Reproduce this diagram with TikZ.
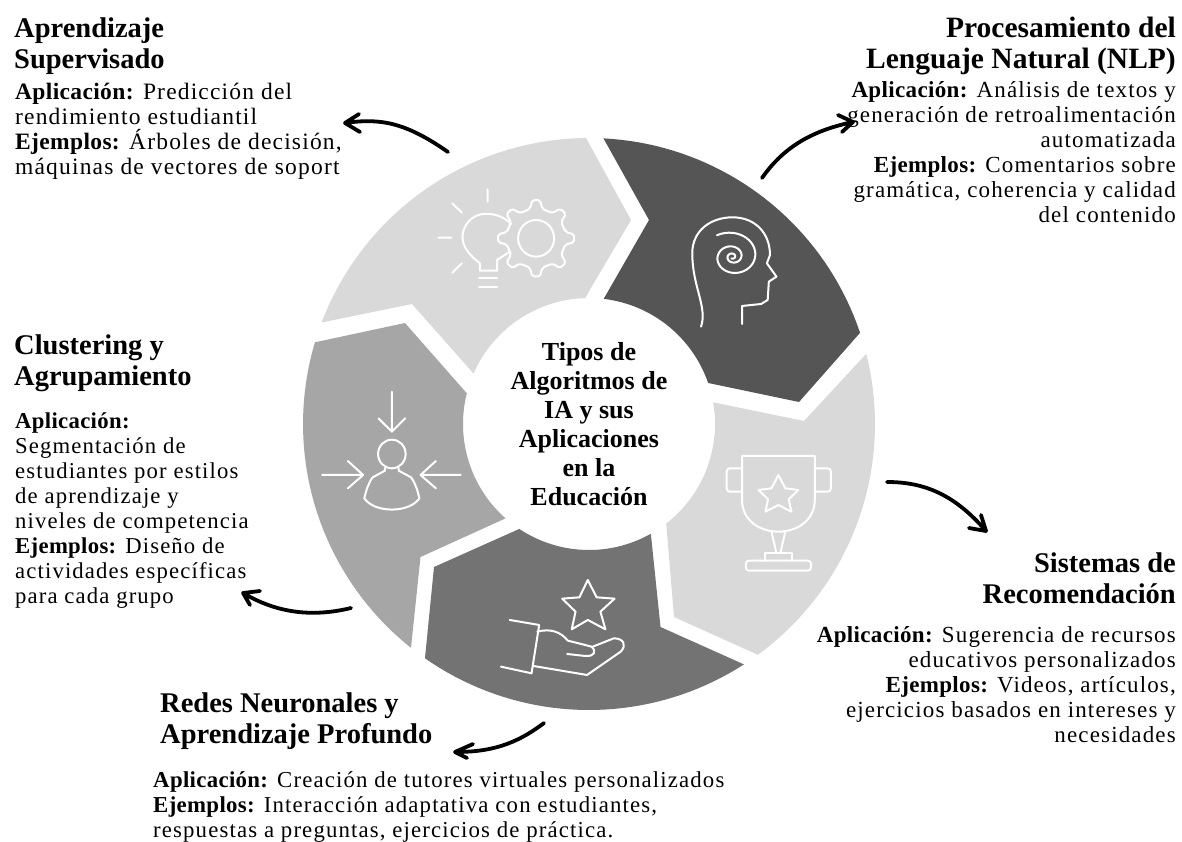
\documentclass[tikz,border=0pt]{standalone}
\usepackage{fontspec}
\setmainfont{Liberation Serif}
\newfontfamily\bodyfont[LetterSpace=5]{Liberation Serif}
\newfontfamily\bodybold[LetterSpace=1.5,BoldFont={Liberation Serif Bold}]{Liberation Serif Bold}
\definecolor{segl}{HTML}{D9D9D9}
\definecolor{segd}{HTML}{555555}
\definecolor{segm}{HTML}{737373}
\definecolor{sega}{HTML}{A6A6A6}
\newcommand{\bsz}{23}
\newcommand{\bd}[1]{{\bodybold\fontsize{\bsz}{25}\selectfont #1}}
\tikzset{
 x=1pt,y=-1pt,
 iconline/.style={draw=white,line width=2pt,line cap=round,line join=round,fill=none},
 curvearrow/.style={draw=black,line width=3.8pt,line cap=round,line join=round},
 bodytext/.style={inner sep=0pt,font=\bodyfont\renewcommand{\bsz}{#1}\fontsize{\bsz}{25}\selectfont},
 bodytext/.default=23,
 titletext/.style={inner sep=0pt,font=\fontsize{#1}{31}\selectfont\bfseries},
 titletext/.default=28.5,
 centertext/.style={inner sep=0pt,align=center,font=\fontsize{26}{29}\selectfont\bfseries},
}
\begin{document}
\begin{tikzpicture}
\useasboundingbox (0,0) rectangle (1182,842);
\fill[white] (0,0) rectangle (1182,842);
% ring segments
\fill[segl] plot[domain=200.8:269.4,samples=40] ({589+286*cos(\x)},{424+286*sin(\x)}) -- (631,220) -- plot[domain=268.2:203.6,samples=30] ({589+126*cos(\x)},{424+126*sin(\x)}) -- (412,304) -- cycle;
\fill[segd] plot[domain=272.9:341.4,samples=40] ({589+286*cos(\x)},{424+286*sin(\x)}) -- (799,402) -- plot[domain=341:276.7,samples=30] ({589+126*cos(\x)},{424+126*sin(\x)}) -- (649,220) -- cycle;
\fill[segl] plot[domain=345.8:413.8,samples=40] ({589+286*cos(\x)},{424+286*sin(\x)}) -- (674,617) -- plot[domain=52.2:-9.9,samples=30] ({589+126*cos(\x)},{424+126*sin(\x)}) -- (804,421) -- cycle;
\fill[segm] plot[domain=57.2:125,samples=40] ({589+286*cos(\x)},{424+286*sin(\x)}) -- (434,567) -- plot[domain=123.6:60.6,samples=30] ({589+126*cos(\x)},{424+126*sin(\x)}) -- (660.5,627) -- cycle;
\fill[sega] plot[domain=128.5:196.6,samples=40] ({589+286*cos(\x)},{424+286*sin(\x)}) -- (405,323) -- plot[domain=194.1:131.5,samples=30] ({589+126*cos(\x)},{424+126*sin(\x)}) -- (420.5,557) -- cycle;
% icons upper
\begin{scope}[shift={(300,100)},x=0.3827pt,y=-0.3333pt]
 % bulb
 \draw[iconline] (552,372) .. controls (520,335) and (465,330) .. (440,365) .. controls (410,410) and (425,450) .. (470,490) -- (470,512) -- (515,512) -- (515,480) -- (548,455);
 \draw[iconline] (468,533) -- (515,533) (468,560) -- (515,560);
 \draw[iconline] (490,268) -- (490,305) (398,310) -- (423,338) (362,413) -- (395,413) (398,518) -- (423,490);
 % gear
 \draw[iconline] (617,415) ellipse [x radius=47,y radius=55];
 \draw[iconline,rounded corners=2pt] ({617+78*cos(-12)},{415+90*sin(-12)})
 \foreach \a in {0,45,...,315}{ -- ({617+78*cos(\a-12)},{415+90*sin(\a-12)}) -- ({617+100*cos(\a-6)},{415+115*sin(\a-6)}) -- ({617+100*cos(\a+6)},{415+115*sin(\a+6)}) -- ({617+78*cos(\a+12)},{415+90*sin(\a+12)})} -- cycle;
 % head
 \draw[iconline] (1048,680) .. controls (1065,620) and (1025,560) .. (1025,460) .. controls (1025,390) and (1075,352) .. (1130,352) .. controls (1190,352) and (1228,400) .. (1228,465) -- (1220,490) -- (1245,530) -- (1225,545) -- (1222,600) -- (1205,612) -- (1155,618) -- (1155,672);
 \draw[iconline] plot[domain=0:1,samples=120] ({1130+(6+70*(1-\x)*(1-\x))*cos(-122+960*\x)},{470+(6+70*(1-\x)*(1-\x))*sin(-122+960*\x)});
\end{scope}
% icons lower
\begin{scope}[shift={(300,380)},x=0.3827pt,y=-0.3333pt]
 % trophy
 \draw[iconline] (1155,228) -- (1345,228) -- (1345,360) .. controls (1345,420) and (1300,455) .. (1250,455) .. controls (1200,455) and (1155,420) .. (1155,360) -- cycle;
 \draw[iconline,rounded corners=3pt] (1155,265) -- (1115,265) -- (1115,335) -- (1155,335);
 \draw[iconline,rounded corners=3pt] (1345,265) -- (1387,265) -- (1387,335) -- (1345,335);
 \draw[iconline] (1250,285) -- (1268,325) -- (1302,330) -- (1277,358) -- (1284,395) -- (1250,375) -- (1216,395) -- (1223,358) -- (1198,330) -- (1232,325) -- cycle;
 \draw[iconline] (1232,455) -- (1245,520) (1268,455) -- (1255,520);
 \draw[iconline] (1215,542) -- (1215,520) -- (1285,520) -- (1285,542);
 \draw[iconline,rounded corners=3pt] (1165,542) rectangle (1335,572);
 % person
 \draw[iconline] (240,35) -- (240,155) (205,115) -- (240,155) -- (275,115);
 \draw[iconline] (240,222) ellipse [x radius=36,y radius=43];
 \draw[iconline] (222,264) -- (222,272) -- (190,292) .. controls (178,310) and (172,335) .. (168,355) .. controls (195,400) and (285,400) .. (312,355) .. controls (308,335) and (302,310) .. (290,292) -- (258,272) -- (258,264);
 \draw[iconline] (58,285) -- (165,285) (125,243) -- (165,285) -- (125,325);
 \draw[iconline] (420,285) -- (315,285) (355,243) -- (315,285) -- (355,325);
 % star and hand
 \draw[iconline] (752,600) -- (775,652) -- (822,656) -- (785,695) -- (798,748) -- (752,720) -- (710,748) -- (720,695) -- (685,656) -- (730,652) -- cycle;
 \draw[iconline] (548,720) -- (625,735) -- (605,880) -- (525,860);
 \draw[iconline] (620,755) .. controls (655,745) and (680,755) .. (700,782) -- (762,800) .. controls (775,815) and (770,830) .. (745,828) -- (698,822);
 \draw[iconline] (765,800) -- (820,775) .. controls (845,775) and (855,795) .. (838,815) -- (750,885) -- (610,858);
\end{scope}
% centre
\node[centertext] (center) at (589,424) {Tipos de\\Algoritmos de\\IA y sus\\Aplicaciones\\en la\\Educación};
% texts
\node[titletext,anchor=north west,align=left] (t1) at (14,18) {Aprendizaje\\Supervisado};
\node[bodytext=23.5,anchor=north west,align=left] (b1) at (15,83) {\bd{Aplicación:} Predicción del\\rendimiento estudiantil\\\bd{Ejemplos:} Árboles de decisión,\\máquinas de vectores de soport};
\node[titletext=29.5,anchor=north east,align=right] (t2) at (1176,17) {Procesamiento del\\Lenguaje Natural (NLP)};
\node[bodytext,anchor=north east,align=right] (b2) at (1176,81) {\bd{Aplicación:} Análisis de textos y\\generación de retroalimentación\\automatizada\\\bd{Ejemplos:} Comentarios sobre\\gramática, coherencia y calidad\\del contenido};
\node[titletext,anchor=north east,align=right] (t3) at (1176,553) {Sistemas de\\Recomendación};
\node[bodytext,anchor=north east,align=right] (b3) at (1176,626) {\bd{Aplicación:} Sugerencia de recursos\\educativos personalizados\\\bd{Ejemplos:} Videos, artículos,\\ejercicios basados en intereses y\\necesidades};
\node[titletext,anchor=north west,align=left] (t4) at (14,335) {Clustering y\\Agrupamiento};
\node[bodytext=22.7,anchor=north west,align=left] (b4) at (15,413) {\bd{Aplicación:}\\Segmentación de\\estudiantes por estilos\\de aprendizaje y\\niveles de competencia\\\bd{Ejemplos:} Diseño de\\actividades específicas\\para cada grupo};
\node[titletext,anchor=north west,align=left] (t5) at (160,693) {Redes Neuronales y\\Aprendizaje Profundo};
\node[bodytext=22.8,anchor=north west,align=left] (b5) at (153,771) {\bd{Aplicación:} Creación de tutores virtuales personalizados\\\bd{Ejemplos:} Interacción adaptativa con estudiantes,\\respuestas a preguntas, ejercicios de práctica.};
% arrows
\coordinate (a1s) at (448,152); \coordinate (a1t) at (345,123);
\coordinate (a2s) at (762,178); \coordinate (a2t) at (853,122);
\coordinate (a3s) at (887,482); \coordinate (a3t) at (986,531);
\coordinate (a4s) at (351,608); \coordinate (a4t) at (243,593);
\coordinate (a5s) at (544,723); \coordinate (a5t) at (455,752);
\draw[curvearrow] (a1s) .. controls (405,122) and (380,118) .. (a1t) (359,114) -- (a1t) -- (360,132);
\draw[curvearrow] (a2s) .. controls (785,145) and (815,130) .. (a2t) (838,115) -- (a2t) -- (842,132);
\draw[curvearrow] (a3s) .. controls (925,482) and (955,495) .. (a3t) (981,515) -- (a3t) -- (969,528);
\draw[curvearrow] (a4s) .. controls (310,618) and (275,612) .. (a4t) (260,591) -- (a4t) -- (250,605);
\draw[curvearrow] (a5s) .. controls (515,745) and (490,752) .. (a5t) (473,744) -- (a5t) -- (467,758);
\end{tikzpicture}
\end{document}
